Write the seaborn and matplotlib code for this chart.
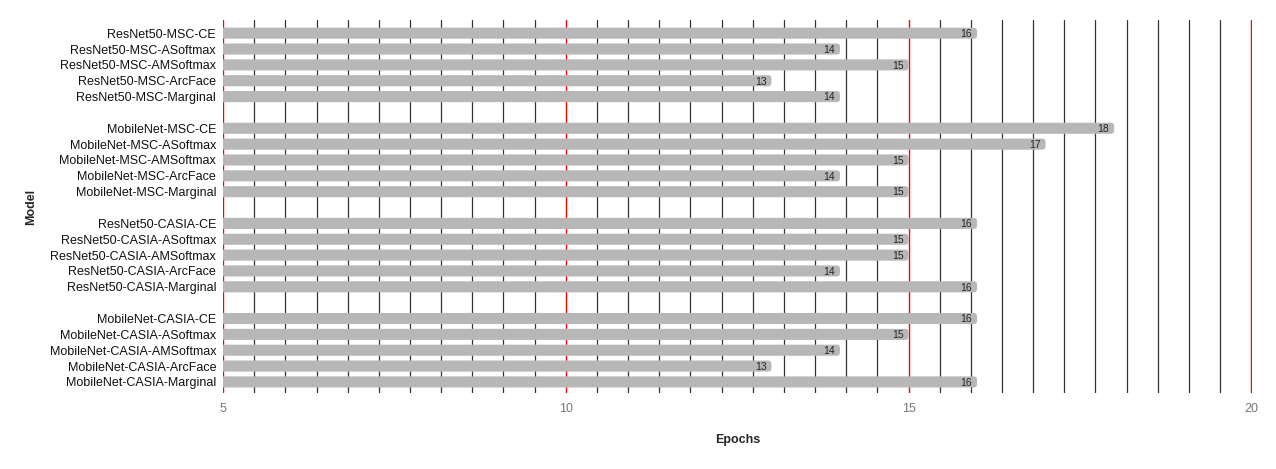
import numpy as np
import pandas as pd
import matplotlib.pyplot as plt
import seaborn as sns
from matplotlib.patches import FancyBboxPatch
from matplotlib.ticker import MultipleLocator, FixedLocator

# Данные: модели и число эпох
resnet_msc = ['ResNet50-MSC-CE', 'ResNet50-MSC-ASoftmax', 'ResNet50-MSC-AMSoftmax',
              'ResNet50-MSC-ArcFace', 'ResNet50-MSC-Marginal']
resnet_msc_epochs = [16, 14, 15, 13, 14]

mobile_msc = ['MobileNet-MSC-CE', 'MobileNet-MSC-ASoftmax', 'MobileNet-MSC-AMSoftmax',
              'MobileNet-MSC-ArcFace', 'MobileNet-MSC-Marginal']
mobile_msc_epochs = [18, 17, 15, 14, 15]

resnet_casia = ['ResNet50-CASIA-CE', 'ResNet50-CASIA-ASoftmax', 'ResNet50-CASIA-AMSoftmax',
                'ResNet50-CASIA-ArcFace', 'ResNet50-CASIA-Marginal']
resnet_casia_epochs = [16, 15, 15, 14, 16]

mobile_casia = ['MobileNet-CASIA-CE', 'MobileNet-CASIA-ASoftmax', 'MobileNet-CASIA-AMSoftmax',
                'MobileNet-CASIA-ArcFace', 'MobileNet-CASIA-Marginal']
mobile_casia_epochs = [16, 15, 14, 13, 16]

models = resnet_msc + mobile_msc + resnet_casia + mobile_casia
epochs = resnet_msc_epochs + mobile_msc_epochs + resnet_casia_epochs + mobile_casia_epochs
df = pd.DataFrame({'Model': models, 'Epochs': epochs})

# порядок с пустыми строками между группами
order = resnet_msc + [' '] + mobile_msc + ['  '] + resnet_casia + ['   '] + mobile_casia

sns.set_style('white')
plt.rcParams['font.family'] = ['Liberation Sans', 'DejaVu Sans']

fig, ax = plt.subplots(figsize=(12.76, 4.69), dpi=100)
fig.subplots_adjust(left=0.1748, right=0.9814, top=0.957, bottom=0.162)

sns.barplot(data=df, y='Model', x='Epochs', order=order, color='#b7b7b7',
            width=0.7, orient='h', ax=ax, zorder=3, saturation=1)

# скругленные концы столбцов
for p in list(ax.patches):
    x, y = p.get_x(), p.get_y()
    w, h = p.get_width(), p.get_height()
    if w == 0 or np.isnan(w):
        continue
    p.set_visible(False)
    ax.add_patch(FancyBboxPatch((x, y), w, h,
                                boxstyle='round,pad=0,rounding_size=0.05',
                                mutation_aspect=4.3, fc='#b7b7b7', ec='none',
                                zorder=3))

for m, v in zip(models, epochs):
    ax.text(v - 0.07, order.index(m) + 0.05, str(v), ha='right', va='center',
            fontsize=7.5, color='#222222', zorder=4)

ax.set_xlim(5, 20.015)
ax.set_ylim(len(order) - 0.3, -0.82)
ax.xaxis.set_major_locator(MultipleLocator(5))
ax.xaxis.set_minor_locator(FixedLocator(5 + np.arange(34) * 15 / 33))
ax.grid(which='minor', axis='x', color='#333333', linewidth=0.9, zorder=0)
ax.grid(which='major', axis='x', color='red', linewidth=1.0, zorder=1)
ax.grid(False, axis='y')
ax.set_axisbelow(True)

for s in ax.spines.values():
    s.set_visible(False)
ax.tick_params(axis='x', which='both', length=0, pad=7, labelsize=9, labelcolor='#777777')
ax.tick_params(axis='y', length=0, pad=5, labelsize=9, labelcolor='#111111')

ax.set_xlabel('Epochs', fontsize=9, fontweight='bold', labelpad=14)
ax.set_ylabel('Model', fontsize=9, fontweight='bold', labelpad=9)

fig.savefig('out.png', dpi=100)
